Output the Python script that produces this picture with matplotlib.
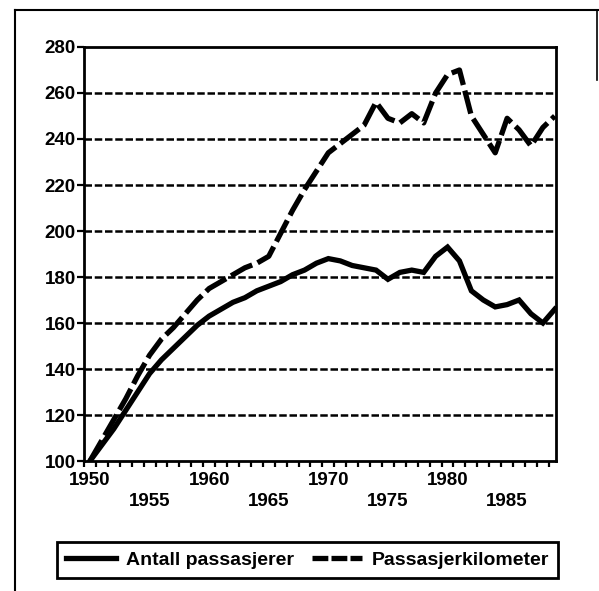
import numpy as np
import matplotlib
matplotlib.use('Agg')
import matplotlib.pyplot as plt
from matplotlib.lines import Line2D

plt.rcParams['font.family'] = ['Liberation Sans', 'DejaVu Sans']
plt.rcParams['font.weight'] = 'bold'

# data (index, 1950 = 100)
years = list(range(1950, 1990))
passasjerer = [100, 107, 114, 122, 130, 138, 144, 149, 154, 159,
               163, 166, 169, 171, 174, 176, 178, 181, 183, 186,
               188, 187, 185, 184, 183, 179, 182, 183, 182, 189,
               193, 187, 174, 170, 167, 168, 170, 164, 160, 166]
passasjerkm = [100, 109, 118, 127, 137, 146, 153, 158, 164, 170,
               175, 178, 181, 184, 186, 189, 199, 209, 218, 226,
               234, 238, 242, 246, 256, 249, 247, 251, 247, 260,
               268, 270, 250, 242, 234, 249, 244, 237, 245, 250]
label_years = [1950, 1955, 1960, 1965, 1970, 1975, 1980, 1985]
yticks = list(range(100, 281, 20))
series_names = ['Antall passasjerer', 'Passasjerkilometer']

W, H = 599, 591
fig = plt.figure(figsize=(W / 100, H / 100), dpi=100)
ax = fig.add_axes([84 / W, 1 - 461 / H, (556 - 84) / W, (461 - 47) / H])

# gridlines
for v in yticks[1:-1]:
    ax.axhline(v, color='black', lw=1.8, ls=(0, (3.0, 1.1)), zorder=1)

ax.plot(years, passasjerer, color='black', lw=3.8, solid_joinstyle='miter', zorder=3)
ax.plot(years, passasjerkm, color='black', lw=3.8, ls=(0, (4.5, 1.1)), zorder=3)

ax.set_xlim(1949.6, 1989.1)
ax.set_ylim(100, 280)
ax.set_yticks(yticks)
ax.set_yticklabels([str(v) for v in yticks])

ax.set_xticks(label_years)
ax.set_xticklabels([str(y) if i % 2 == 0 else '\n' + str(y) for i, y in enumerate(label_years)])
ax.set_xticks(np.arange(1949.5, 1989.5, 1), minor=True)
ax.tick_params(axis='x', which='major', length=0, pad=8, labelsize=13.5)
ax.tick_params(axis='x', which='minor', length=4, width=1.6, direction='out')
ax.tick_params(axis='y', length=5, width=1.6, pad=1, labelsize=13.5)
for lab in ax.get_xticklabels():
    lab.set_linespacing(1.3)
for lab in ax.get_xticklabels() + ax.get_yticklabels():
    lab.set_fontweight('bold')

for s in ax.spines.values():
    s.set_linewidth(2)

# outer frame of the scanned page
fig.add_artist(Line2D([15 / W, 15 / W], [0, 1 - 10 / H], transform=fig.transFigure, color='black', lw=1.5))
fig.add_artist(Line2D([15 / W, 598 / W], [1 - 10 / H, 1 - 10 / H], transform=fig.transFigure, color='black', lw=1.5))
fig.add_artist(Line2D([597 / W, 597 / W], [1 - 10 / H, 1 - 80 / H], transform=fig.transFigure, color='black', lw=1.2))

handles = [Line2D([], [], color='black', lw=3.8),
           Line2D([], [], color='black', lw=3.8, ls=(0, (3.0, 0.6)))]
leg = fig.legend(handles, series_names, loc='center', bbox_to_anchor=(307.5 / W, 1 - 560 / H),
                 ncol=2, frameon=True, fancybox=False, framealpha=1, edgecolor='black',
                 prop={'size': 14, 'weight': 'bold'}, handlelength=2.6, handletextpad=0.5,
                 columnspacing=0.9, borderpad=0.45, borderaxespad=0)
leg.get_frame().set_linewidth(2)

fig.savefig('out.png', dpi=100)
